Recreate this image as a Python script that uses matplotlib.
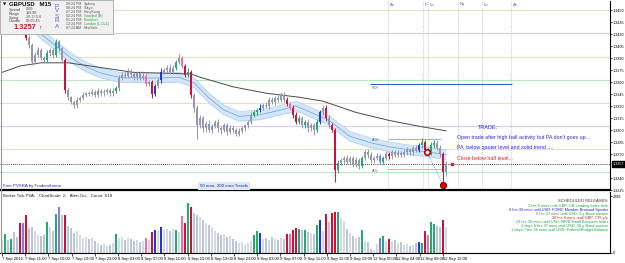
import matplotlib
matplotlib.use("Agg")
import matplotlib.pyplot as plt
from matplotlib.patches import Rectangle
import numpy as np

plt.rcParams['font.family'] = ['Liberation Sans', 'DejaVu Sans']

W, H = 625, 263
BASE = 1.3200  # closes / levels below are pips above this

# one bar per 30 min, 7 Sep 07:00 -> 12 Sep 12:00
closes = [247, 250, 244, 252, 247, 240, 238, 231, 215, 206,
          185, 194, 200, 190, 188, 196, 200, 194, 210, 202,
          188, 150, 141, 135, 131, 138, 140, 144, 146, 145,
          148, 144, 149, 146, 148, 150, 146, 149, 152, 165,
          169, 168, 173, 170, 166, 171, 165, 168, 158, 160,
          145, 155, 162, 173, 175, 178, 173, 178, 185, 190,
          180, 169, 173, 144, 128, 106, 115, 102, 108, 100,
          105, 110, 102, 100, 106, 98, 102, 100, 95, 99,
          102, 106, 110, 119, 122, 125, 128, 131, 130, 138,
          135, 140, 138, 144, 138, 133, 128, 119, 110, 115,
          106, 110, 102, 106, 100, 110, 122, 128, 115, 106,
          100, 50, 59, 62, 65, 60, 65, 57, 62, 55,
          65, 72, 69, 62, 65, 67, 60, 65, 70, 67,
          72, 69, 71, 69, 72, 75, 72, 77, 75, 81,
          85, 75, 72, 81, 84, 78, 70, 47, 57]
wick_up = [3, 4, 3, 3, 2, 3, 3, 2, 3, 4,
           3, 3, 4, 3, 3, 4, 3, 3, 4, 3,
           2, 2, 3, 2, 3, 3, 2, 3, 2, 3,
           3, 2, 3, 2, 3, 3, 2, 3, 3, 4,
           3, 3, 4, 3, 2, 3, 3, 4, 3, 3,
           2, 3, 3, 4, 3, 3, 4, 3, 3, 5,
           3, 3, 4, 2, 2, 3, 4, 3, 3, 4,
           3, 3, 4, 3, 3, 3, 4, 3, 3, 3,
           3, 2, 3, 3, 3, 3, 4, 3, 4, 3,
           3, 3, 4, 3, 4, 3, 2, 3, 3, 4,
           3, 3, 4, 3, 3, 4, 3, 3, 3, 4,
           3, 3, 4, 3, 3, 4, 3, 3, 4, 3,
           3, 3, 4, 3, 3, 4, 3, 3, 4, 3,
           3, 3, 4, 3, 3, 4, 3, 3, 4, 3,
           5, 3, 4, 4, 4, 3, 3, 3, 4]
wick_dn = [3, 3, 4, 3, 3, 3, 3, 4, 3, 3,
           4, 3, 3, 3, 4, 3, 3, 4, 3, 3,
           3, 4, 3, 3, 3, 3, 3, 3, 3, 3,
           3, 3, 3, 4, 3, 3, 3, 3, 3, 3,
           3, 3, 3, 4, 3, 3, 3, 3, 3, 3,
           5, 3, 3, 3, 3, 3, 3, 3, 3, 3,
           3, 3, 3, 4, 5, 17, 4, 5, 4, 3,
           4, 3, 4, 5, 3, 4, 3, 4, 3, 3,
           3, 3, 4, 3, 3, 3, 3, 3, 3, 4,
           3, 4, 3, 3, 3, 3, 3, 4, 3, 3,
           4, 3, 4, 3, 6, 3, 3, 3, 4, 3,
           3, 15, 4, 3, 4, 3, 4, 3, 3, 4,
           3, 3, 4, 3, 3, 3, 3, 3, 3, 3,
           3, 3, 3, 3, 3, 3, 3, 3, 3, 3,
           3, 3, 3, 3, 3, 3, 4, 15, 4]
volumes = [520, 760, 520, 560, 840, 640, 1200, 1200, 1520, 1000,
           1040, 880, 720, 680, 720, 1240, 1040, 880, 1560, 1840,
           1520, 1520, 1080, 1000, 800, 880, 720, 600, 640, 560,
           600, 480, 400, 320, 360, 280, 320, 400, 760, 600,
           640, 520, 600, 560, 480, 520, 440, 480, 600, 520,
           840, 920, 880, 1040, 920, 960, 880, 960, 920, 840,
           1480, 1200, 2000, 1840, 1600, 1520, 1440, 1320, 1200, 1120,
           1040, 880, 800, 720, 760, 640, 680, 560, 480, 400,
           440, 320, 400, 480, 720, 880, 800, 560, 600, 520,
           640, 560, 520, 600, 560, 760, 760, 920, 1000, 960,
           920, 920, 840, 800, 760, 1120, 1320, 880, 1560, 1240,
           1600, 1640, 1640, 1400, 1280, 960, 800, 680, 600, 640,
           920, 480, 440, 160, 120, 360, 600, 680, 480, 560,
           480, 520, 400, 440, 320, 360, 280, 320, 400, 440,
           400, 880, 720, 1240, 1160, 1080, 1040, 1320, 1040]
# PVSRA colour class per bar: n normal, g/r climax, b/v/p above average
pvsra = ("ngngnnrvrn" "nnnnngnngv" "nrnnnnnnnn" "nnnnnnnngn" "nnnnnnnnpn"
         "rbnbnnnngn" "prgrnnnnnn" "nnnnnnnnnn" "nnnnggbnnn" "nnnnnrprrg"
         "ngnnngbnrn" "rrgnnnnnnn" "gnnnnnvgnr" "nnnnnnnnnb" "grpggnnrn")

# moving averages (bar index, pips)
ema50_x = [8, 13, 18, 23, 28, 33, 39, 46, 53, 59, 64, 69, 74, 79, 86, 93,
           98, 103, 109, 116, 123, 129, 136, 143, 148]
ema50 = [237, 220, 205, 190, 179, 171, 166, 165, 165, 166, 159, 140, 125,
         117, 119, 125, 130, 122, 112, 92, 84, 79, 75, 72, 69]
ema200_x = [0, 6, 13, 22, 33, 44, 55, 63, 66, 77, 88, 99, 107, 118, 129, 140, 148]
ema200 = [172, 180, 184, 184, 178, 172, 171, 170, 166, 154, 146, 141, 136,
          122, 112, 104, 99]

levels = [250, 221, 191, 162.5, 134, 105, 76, 47.5]
level_colors = ['#e9dfc4', '#cfd0f2', '#e9dfc4', '#bfe5c3',
                '#e9dfc4', '#cfd0f2', '#e9dfc4', '#bfe5c3']
price_ticks = [1.3450, 1.3435, 1.3420, 1.3405, 1.3390, 1.3375, 1.3360, 1.3345,
               1.3330, 1.3315, 1.3300, 1.3285, 1.3270, 1.3240, 1.3225]
last_price = 1.3257

date_labels = ["7 Sep 2016", "7 Sep 11:00", "7 Sep 15:00", "7 Sep 19:00",
               "7 Sep 23:00", "8 Sep 03:00", "8 Sep 07:00", "8 Sep 11:00",
               "8 Sep 15:00", "8 Sep 19:00", "8 Sep 23:00", "9 Sep 03:00",
               "9 Sep 07:00", "9 Sep 11:00", "9 Sep 15:00", "9 Sep 19:00",
               "12 Sep 00:00", "12 Sep 04:00", "12 Sep 08:00", "12 Sep 12:00"]
sessions = ["As", "F", "Lo", "Ny", "Lo", "As"]
sessions_px = [388, 423, 428, 458, 482, 511]

releases = [("3 hrs 6 mins until GBP: CB Leading Index m/m", '#20a040'),
            ("6 hrs 36 mins until USD: FOMC Member Brainard Speaks", '#2020e0'),
            ("6 hrs 37 mins until USD: 3-y Bond auction", '#20a040'),
            ("20 hrs 6 mins until GBP: CPI y/y", '#e02020'),
            ("23 hrs 36 mins until USD: NFIB Small Business Index", '#20a040'),
            ("1 days 6 hrs 37 mins until USD: 30-y Bond auction", '#20a040'),
            ("1 days 7 hrs 36 mins until USD: Federal Budget Balance", '#20a040')]

sessions_info = [("09:24 PM", "Sydney", '#555555'), ("08:24 PM", "Tokyo", '#555555'),
                 ("07:24 PM", "HongKong", '#555555'), ("02:24 PM", "Istanbul (B)", '#20a040'),
                 ("01:24 PM", "Frankfurt", '#20a040'), ("12:24 PM", "London (L-0+1)", '#20a040'),
                 ("07:24 AM", "NewYork", '#555555')]

# ---------------------------------------------------------------------------
def fx(px):
    return px / W


def fy(py):
    return 1 - py / H


def idx(px):
    return (px - 2) / 3.0


def pr(p):
    return BASE + np.asarray(p, dtype=float) / 10000.0


cls = np.array(closes, dtype=float)
opn = np.concatenate([[245.0], cls[:-1]])
hi = np.maximum(opn, cls) + np.array(wick_up)
lo = np.minimum(opn, cls) - np.array(wick_dn)
x = np.arange(len(cls))

candle_col = {'n': '#9496aa', 'g': '#1fae6e', 'r': '#d0103a', 'b': '#2233ee',
              'v': '#8878f0', 'p': '#f0709a'}
cc = [candle_col[c] for c in pvsra]
vc = []
for i, c in enumerate(pvsra):
    if c == 'n':
        vc.append('#d3dae6' if cls[i] >= opn[i] else '#bcc5d6')
    else:
        vc.append(candle_col[c])

fig = plt.figure(figsize=(W / 100, H / 100), dpi=100)
fig.patch.set_facecolor('white')

ax = fig.add_axes([0, fy(190), fx(610), 189 / H])
axv = fig.add_axes([0, fy(253), fx(610), 61 / H])

xlim = (idx(0), idx(610))

# --- price panel
ax.set_xlim(*xlim)
ax.set_ylim(1.32250, 1.346125)
for lv, col in zip(levels, level_colors):
    ax.axhline(pr(lv), color=col, lw=0.8, zorder=1)
for sp in sessions_px:
    ax.axvline(idx(sp), color='#b8b8b8', lw=0.6, ls=(0, (1, 1.5)), zorder=1)

# 50 ema band + 200 ema
e50 = pr(ema50)
ax.fill_between(ema50_x, e50 - 0.0006, e50 + 0.0006, color='#d3e6f8', zorder=2, lw=0)
ax.plot(ema50_x, e50 - 0.0006, color='#a9cdee', lw=0.5, zorder=2)
ax.plot(ema50_x, e50 + 0.0006, color='#a9cdee', lw=0.5, zorder=2)
ax.plot(ema50_x, e50, color='#6fa0d8', lw=0.5, zorder=2)
ax.plot(ema200_x, pr(ema200), color='#4a4a4a', lw=0.7, zorder=2)

ax.axhline(last_price, color='black', lw=0.6, ls=(0, (1, 1.5)), zorder=3)

# candles
ax.vlines(x, pr(lo), pr(hi), colors=cc, lw=0.7, zorder=4)
body = np.where(np.abs(cls - opn) < 1, 1, cls - opn)
ax.bar(x, body / 10000.0, bottom=pr(opn), width=0.55, color=cc, lw=0, zorder=4)

# levels & trade drawing
ax.hlines(pr(157.5), idx(370), idx(512), color='#3a5ad8', lw=0.8, zorder=3)
ax.text(idx(372), pr(151), "R3H", fontsize=2.6, color='#6070a0', zorder=5)
ax.hlines(pr(88.75), idx(388), idx(441), color='#a8aee8', lw=0.8, zorder=3)
ax.hlines(pr(51.25), idx(388), idx(441), color='#f0a8a8', lw=0.8, zorder=3)
ax.text(idx(372), pr(86), "ADH", fontsize=2.6, color='#6070a0', zorder=5)
ax.text(idx(372), pr(48), "ADL", fontsize=2.6, color='#6070a0', zorder=5)
ax.plot([idx(427), idx(443)], [pr(72.5), pr(31.25)], color='#5070d0', lw=0.6,
        ls=(0, (1, 1.5)), zorder=5)
ax.plot(idx(427), pr(72.5), 'o', ms=4, mfc='white', mec='#c00000', mew=1.2, zorder=6)
ax.plot(idx(443), pr(31.25), 'o', ms=4.5, mfc='#e00000', mec='#500000', mew=0.6, zorder=6)
ax.plot(idx(452), last_price, 's', ms=2, color='#e02020', zorder=6)

ax.set_xticks([])
ax.yaxis.tick_right()
ax.set_yticks(price_ticks)
ax.set_yticklabels([f"{t:.4f}" for t in price_ticks])
ax.tick_params(axis='y', length=1.5, width=0.5, pad=0.6, labelsize=2.7, colors='black')
for s in ('top', 'left'):
    ax.spines[s].set_visible(False)
ax.spines['right'].set_linewidth(0.8)
ax.spines['bottom'].set_linewidth(1.6)
ax.annotate(f"{last_price:.4f}", xy=(1.0, last_price), xycoords=('axes fraction', 'data'),
            xytext=(2.2, 0), textcoords='offset points', fontsize=2.7, color='white',
            va='center', ha='left',
            bbox=dict(boxstyle='square,pad=0.25', fc='black', ec='black'),
            annotation_clip=False, zorder=7)

# --- volume panel
axv.set_xlim(*xlim)
axv.set_ylim(0, 2450)
axv.bar(x, volumes, width=0.6, color=vc, lw=0)
axv.yaxis.tick_right()
axv.set_yticks([0, 2289])
axv.set_yticklabels(["0", "2289"])
axv.tick_params(axis='y', length=1.5, width=0.5, pad=0.6, labelsize=2.7)
ticks_x = [7.733 * k for k in range(len(date_labels))]
axv.set_xticks(ticks_x)
axv.set_xticklabels(date_labels, ha='left')
axv.tick_params(axis='x', length=2, width=0.5, pad=0.8, labelsize=3)
for s in ('top', 'left'):
    axv.spines[s].set_visible(False)
axv.spines['right'].set_linewidth(0.8)
axv.spines['bottom'].set_linewidth(0.8)

# --- figure texts
fig.add_artist(plt.Line2D([fx(0.5), fx(0.5)], [fy(0), fy(253)], color='#9a9a9a', lw=0.8))

for lbl, sp in zip(sessions, sessions_px):
    fig.text(fx(sp + 1.5), fy(4.5), lbl, fontsize=3, color='#5a5aa8', va='center')

fig.text(fx(3), fy(186), "Free PVSRA by Tradersthome", fontsize=3.2, color='#2525c0', va='center')
fig.text(fx(224), fy(186), "50 ema, 200 ema Trends", fontsize=3.2, color='#2525a0',
         va='center', ha='center',
         bbox=dict(boxstyle='square,pad=0.5', fc='#dde9f7', ec='none'))
fig.text(fx(3), fy(196), "Broker Tick PVA:   ChartScale: 2;   Alert On;   Count: 618",
         fontsize=3.2, color='#222222', va='center')

fig.text(fx(478), fy(128), "TRADE:", fontsize=4, color='#2a2ad0', va='center')
fig.text(fx(457), fy(138), "Open trade after high ball activity but PA don't goes up...",
         fontsize=3.8, color='#2a2ad0', va='center')
fig.text(fx(457), fy(147), "PA  below qauter level and solid trend ....",
         fontsize=3.8, color='#2a2ad0', va='center')
fig.text(fx(457), fy(159), "Close below half level...", fontsize=3.8, color='#e02020', va='center')

fig.text(fx(608), fy(201), "SCHEDULED RELEASES:", fontsize=3, color='#333333',
         ha='right', va='center')
for k, (txt, col) in enumerate(releases):
    fig.text(fx(608), fy(205.5 + 4.1 * k), txt, fontsize=2.8, color=col,
             ha='right', va='center')

# info box
fig.patches.append(Rectangle((0, fy(34)), fx(113), 34 / H, transform=fig.transFigure,
                             fc='#f0f0f0', ec='#a8a8a8', lw=0.6, zorder=10))
fig.text(fx(2.5), fy(4.5), "\u25bc", fontsize=3, color='black', va='center', zorder=11,
         family=['DejaVu Sans'])
fig.text(fx(9), fy(4.5), "GBPUSD   M15", fontsize=4.3, weight='bold', color='#111111',
         va='center', zorder=11)
info_rows = [("Spread", "0.00"), ("Range", "109.90"), ("Swing", "-26.7/-5.6"),
             ("Candle", "00:05:45")]
for k, (a, b) in enumerate(info_rows):
    fig.text(fx(9), fy(9.5 + 4 * k), a, fontsize=2.7, color='#444444', va='center', zorder=11)
    fig.text(fx(26), fy(9.5 + 4 * k), b, fontsize=2.7, color='#444444', va='center', zorder=11)
fig.text(fx(13), fy(27.5), "1.3257", fontsize=5.3, weight='bold', color='#d8102a',
         va='center', zorder=11)
fig.text(fx(38.5), fy(28), "\u2191", fontsize=3.2, color='#d8102a', va='center', zorder=11,
         family=['DejaVu Sans'])
for k, ch in enumerate("PVSRA"):
    fig.text(fx(57), fy(6 + 5 * k), ch, fontsize=4.5, color='#6655cc', va='center',
             ha='center', zorder=11)
for k, (t, city, col) in enumerate(sessions_info):
    fig.text(fx(66), fy(4 + 4 * k), t, fontsize=2.6, color='#555555', va='center', zorder=11)
    fig.text(fx(84), fy(4 + 4 * k), city, fontsize=2.6, color=col, va='center', zorder=11)

fig.savefig("out.png", dpi=100)
